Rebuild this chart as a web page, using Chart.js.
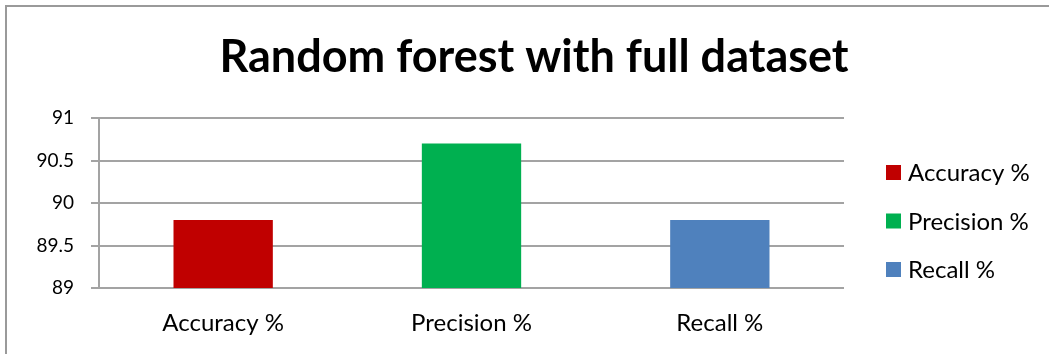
<!DOCTYPE html>
<html>
<head>
<meta charset="utf-8">
<title>Random forest with full dataset</title>
<script src="https://cdn.jsdelivr.net/npm/chart.js@4.4.1/dist/chart.umd.min.js"></script>
<style>
	html, body { margin: 0; padding: 0; background: #fff; overflow: hidden; }
	#wrap { position: relative; width: 1049px; height: 354px; }
	#frame { position: absolute; left: 5px; top: 5px; width: 1100px; height: 400px; border: 2px solid #9a9a9a; box-sizing: border-box; }
	#chart { position: absolute; left: 0; top: 0; }
</style>
</head>
<body>
<div id="wrap">
	<div id="frame"></div>
	<canvas id="chart" width="1049" height="354"></canvas>
</div>
<script>
/* global Chart */
// Datos del gráfico
const categories = ['Accuracy %', 'Precision %', 'Recall %'];
const scores = [89.8, 90.7, 89.8];
const barColors = ['#C00000', '#00B050', '#4F81BD'];
const yMin = 89;
const yMax = 91;
const yStep = 0.5;

const FONT = "Lato, 'Open Sans', sans-serif";
const GRID = '#a3a3a3';

// Leyenda a la derecha: un cuadro por categoría con el color de su barra
const sideLegend = {
	id: 'sideLegend',
	afterDraw(chart) {
		const { ctx } = chart;
		const box = chart.scales.legendSpace;
		const colors = chart.data.datasets[0].backgroundColor;
		const x = box.left + 42;

		ctx.save();
		ctx.font = `24px ${FONT}`;
		ctx.textBaseline = 'middle';
		ctx.textAlign = 'left';
		chart.data.labels.forEach((label, i) => {
			const y = 172.5 + i * 48.5;
			ctx.fillStyle = colors[i];
			ctx.fillRect(x, y - 7.5, 15, 15);
			ctx.fillStyle = '#000';
			ctx.fillText(label, x + 22, y + 1);
		});
		ctx.restore();
	}
};

const config = {
	type: 'bar',
	data: {
		labels: categories,
		datasets: [{
			label: 'Random forest',
			data: scores,
			backgroundColor: barColors,
			barPercentage: 0.4,
			categoryPercentage: 1
		}]
	},
	options: {
		responsive: false,
		animation: false,
		devicePixelRatio: 1,
		layout: {
			padding: { left: 19, right: 0, top: 0, bottom: 0 }
		},
		scales: {
			x: {
				grid: { display: false, drawTicks: false },
				border: { display: false },
				ticks: { color: '#000', font: { family: FONT, size: 24 }, padding: 21 },
				afterFit: (s) => { s.height = 66; }
			},
			y: {
				min: yMin,
				max: yMax,
				ticks: {
					stepSize: yStep,
					color: '#000',
					font: { family: FONT, size: 19 },
					padding: 17,
					callback: (v) => String(v)
				},
				grid: { color: GRID, lineWidth: 2, tickLength: 8 },
				border: { color: GRID, width: 2 },
				afterFit: (s) => { s.width = 80; }
			},
			// hueco reservado para la leyenda
			legendSpace: {
				type: 'linear',
				position: 'right',
				grid: { display: false },
				ticks: { display: false },
				border: { display: false },
				afterFit: (s) => { s.width = 205; }
			}
		},
		plugins: {
			title: {
				display: true,
				text: 'Random forest with full dataset',
				color: '#000',
				font: { family: FONT, size: 45, weight: 'bold', lineHeight: 1.2 },
				padding: { top: 30, bottom: 34 }
			},
			legend: { display: false },
			tooltip: { enabled: false }
		}
	},
	plugins: [sideLegend]
};

const canvas = document.getElementById('chart');
const graph = new Chart(canvas, config);
</script>
</body>
</html>
